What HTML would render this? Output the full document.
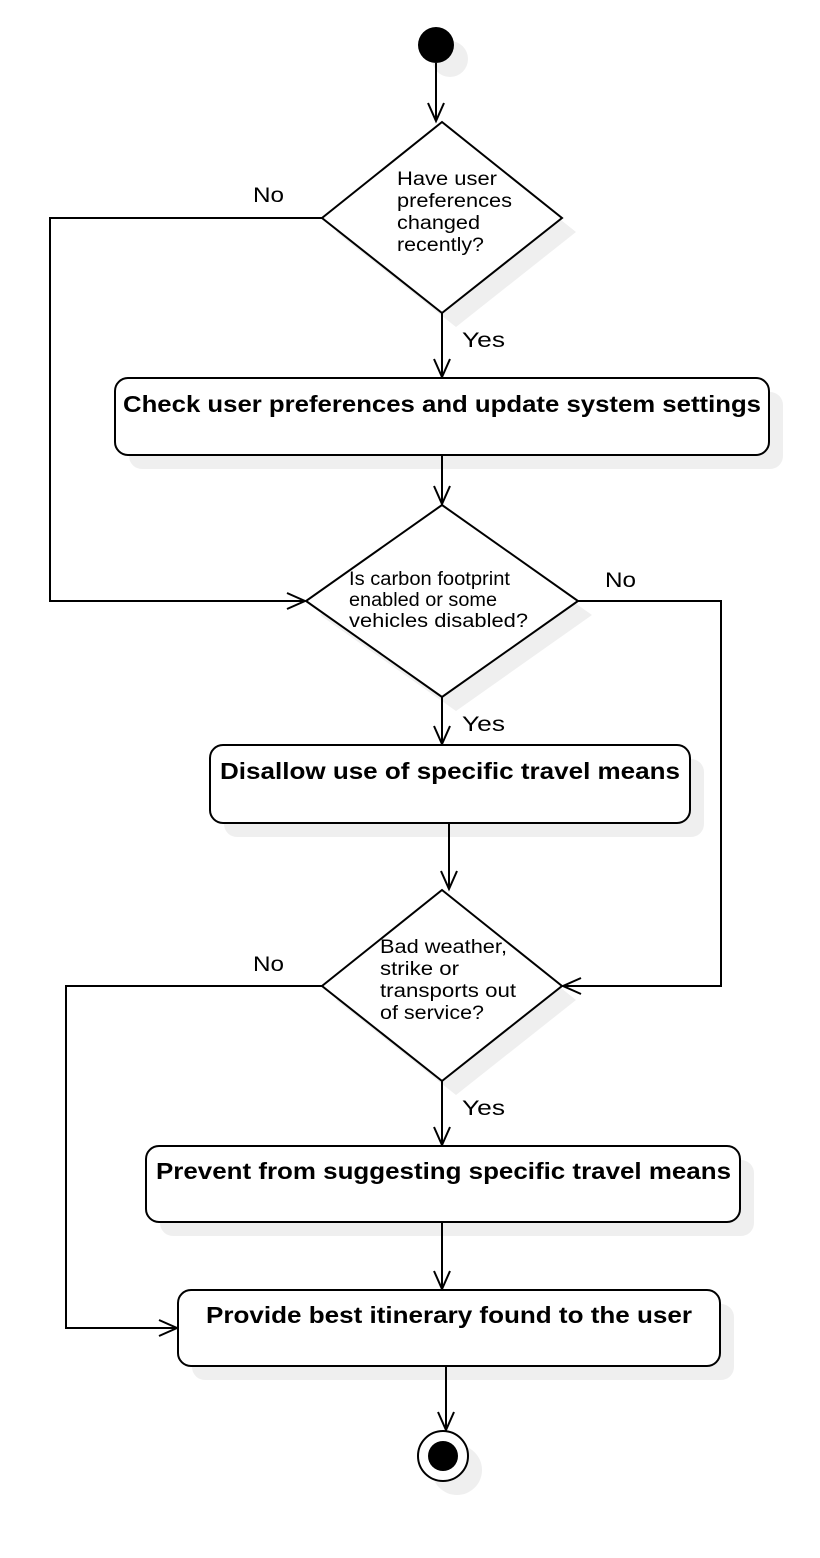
<!DOCTYPE html>
<html><head><meta charset="utf-8"><style>
html,body{margin:0;padding:0;background:#fff;}
svg{display:block;}
text{font-family:"Liberation Sans",Arial,sans-serif;fill:#000;}
.q{font-size:19px;}
.b{font-size:23px;font-weight:bold;}
.l{font-size:21px;}
</style></head><body>
<svg width="820" height="1558" viewBox="0 0 820 1558" xmlns="http://www.w3.org/2000/svg">
<g fill="#efefef" stroke="none">
<circle cx="450" cy="59" r="18"/>
<polygon points="456,136 576,232 456,327 336,232"/>
<rect x="129" y="392" width="654" height="77" rx="13"/>
<polygon points="456,519 592,615 456,711 320,615"/>
<rect x="224" y="759" width="480" height="78" rx="13"/>
<polygon points="456,904 576,1000 456,1095 336,1000"/>
<rect x="160" y="1160" width="594" height="76" rx="13"/>
<rect x="192" y="1304" width="542" height="76" rx="13"/>
<circle cx="457" cy="1470" r="25"/>
</g>
<g stroke="#000" stroke-width="2" fill="none">
<line x1="436" y1="63" x2="436" y2="121"/>
<polyline points="428,103 436,121 444,103"/>
<line x1="442" y1="313" x2="442" y2="377"/>
<polyline points="434,359 442,377 450,359"/>
<line x1="442" y1="455" x2="442" y2="504"/>
<polyline points="434,486 442,504 450,486"/>
<line x1="442" y1="697" x2="442" y2="744"/>
<polyline points="434,726 442,744 450,726"/>
<line x1="449" y1="823" x2="449" y2="889"/>
<polyline points="441,871 449,889 457,871"/>
<line x1="442" y1="1081" x2="442" y2="1145"/>
<polyline points="434,1127 442,1145 450,1127"/>
<line x1="442" y1="1222" x2="442" y2="1289"/>
<polyline points="434,1271 442,1289 450,1271"/>
<line x1="446" y1="1366" x2="446" y2="1430"/>
<polyline points="438,1412 446,1430 454,1412"/>
<polyline points="322,218 50,218 50,601 305,601"/>
<polyline points="287,593 305,601 287,609"/>
<polyline points="578,601 721,601 721,986 563,986"/>
<polyline points="581,978 563,986 581,994"/>
<polyline points="322,986 66,986 66,1328 177,1328"/>
<polyline points="159,1320 177,1328 159,1336"/>
</g>
<g stroke="#000" stroke-width="2" fill="#fff">
<polygon points="442,122 562,218 442,313 322,218"/>
<rect x="115" y="378" width="654" height="77" rx="13"/>
<polygon points="442,505 578,601 442,697 306,601"/>
<rect x="210" y="745" width="480" height="78" rx="13"/>
<polygon points="442,890 562,986 442,1081 322,986"/>
<rect x="146" y="1146" width="594" height="76" rx="13"/>
<rect x="178" y="1290" width="542" height="76" rx="13"/>
<circle cx="443" cy="1456" r="25"/>
</g>
<circle cx="436" cy="45" r="18" fill="#000"/>
<circle cx="443" cy="1456" r="15" fill="#000"/>
<text class="q" x="397" y="185" textLength="100" lengthAdjust="spacingAndGlyphs">Have user</text>
<text class="q" x="397" y="207" textLength="115" lengthAdjust="spacingAndGlyphs">preferences</text>
<text class="q" x="397" y="229" textLength="83" lengthAdjust="spacingAndGlyphs">changed</text>
<text class="q" x="397" y="251" textLength="87" lengthAdjust="spacingAndGlyphs">recently?</text>
<text class="q" x="349" y="585" textLength="161" lengthAdjust="spacingAndGlyphs">Is carbon footprint</text>
<text class="q" x="349" y="606" textLength="148" lengthAdjust="spacingAndGlyphs">enabled or some</text>
<text class="q" x="349" y="627" textLength="179" lengthAdjust="spacingAndGlyphs">vehicles disabled?</text>
<text class="q" x="380" y="953" textLength="127" lengthAdjust="spacingAndGlyphs">Bad weather,</text>
<text class="q" x="380" y="975" textLength="79" lengthAdjust="spacingAndGlyphs">strike or</text>
<text class="q" x="380" y="997" textLength="136" lengthAdjust="spacingAndGlyphs">transports out</text>
<text class="q" x="380" y="1019" textLength="104" lengthAdjust="spacingAndGlyphs">of service?</text>
<text class="b" x="123" y="412" textLength="638" lengthAdjust="spacingAndGlyphs">Check user preferences and update system settings</text>
<text class="b" x="220" y="779" textLength="460" lengthAdjust="spacingAndGlyphs">Disallow use of specific travel means</text>
<text class="b" x="156" y="1179" textLength="575" lengthAdjust="spacingAndGlyphs">Prevent from suggesting specific travel means</text>
<text class="b" x="206" y="1323" textLength="486" lengthAdjust="spacingAndGlyphs">Provide best itinerary found to the user</text>
<text class="l" x="253" y="202" textLength="31" lengthAdjust="spacingAndGlyphs">No</text>
<text class="l" x="462" y="347" textLength="43" lengthAdjust="spacingAndGlyphs">Yes</text>
<text class="l" x="605" y="587" textLength="31" lengthAdjust="spacingAndGlyphs">No</text>
<text class="l" x="462" y="731" textLength="43" lengthAdjust="spacingAndGlyphs">Yes</text>
<text class="l" x="253" y="971" textLength="31" lengthAdjust="spacingAndGlyphs">No</text>
<text class="l" x="462" y="1115" textLength="43" lengthAdjust="spacingAndGlyphs">Yes</text>
</svg>
</body></html>
